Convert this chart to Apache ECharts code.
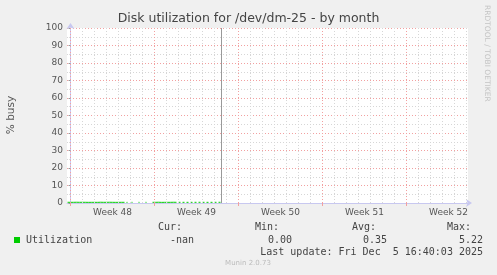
<!DOCTYPE html>
<html><head><meta charset="utf-8">
<script src="https://cdn.jsdelivr.net/npm/echarts@6/dist/echarts.min.js"></script>
<style>html,body{margin:0;padding:0;background:#f0f0f0}#c{width:497px;height:275px}</style>
</head><body><div id="c"></div>
<script>
// ---- data ----
const chartTitle = 'Disk utilization for /dev/dm-25 - by month';
const yAxisName = '% busy';
const weekLabels = ['Week 48', 'Week 49', 'Week 50', 'Week 51', 'Week 52'];
const weekCenters = [3.5, 10.5, 17.5, 24.5, 31.5];   // days from start of week 48
const weekStarts = [0, 7, 14, 21, 28];
const dayLines = [1,2,3,4,5,6,8,9,10,11,12,13,15,16,17,18,19,20,22,23,24,25,26,27,29,30,31,32,33];
const xMin = -0.29167, xMax = 33.125;
const sampleStart = -0.25;          // day of first sample
const sampleStep = 1 / 12;          // 2-hour samples
const utilization = [
  0.42, 0.45, 0.40,
  0.38, 0.41, 0.44, 0.40, 0.36, 0.39, 0.43, 0.41, 0.37, 0.40, 0.42, 0.39,
  0.41, 0.38, 0.36, 0.40, 0.43, 0.40, 0.37, 0.41, 0.44, 0.39, 0.38, 0.40,
  0.39, 0.42, 0.40, 0.37, 0.38, 0.41, 0.43, 0.40, 0.36, 0.39, 0.42, 0.40,
  0.40, 0.37, 0.39, 0.42, 0.41, 0.38, 0.40, 0.43, 0.39, 0.37, 0.40, 0.41,
  0.38, 0.41, 0.43, 0.40, 0.37, 0.39, 0.40, null, 0.35, 0.38, null, null,
  null, 0.40, 0.38, null, null, 0.30, null, null, 0.40, 0.37, null, null,
  0.33, null, null, 0.40, 0.38, null, null, 0.35, null, null, 0.40, 0.42,
  0.41, 0.39, 0.37, 0.40, 0.43, 0.41, 0.38, 0.36, 0.40, 0.42, 0.39, 0.41,
  0.40, 0.38, 0.41, 0.43, 0.39, 0.37, 0.40, 0.42, 0.40, 0.38, 0.41, null,
  0.40, 0.38, 0.41, null, 0.39, 0.42, 0.40, null, 0.38, 0.41, 0.39, null,
  0.40, 0.42, 0.38, null, 0.41, 0.39, 0.40, null, 0.42, 0.38, 0.40, null,
  0.39, 0.41, 0.40, null, 0.38, 0.42, 0.39, null, 0.40, 0.41, 0.38, null,
  0.41, 0.39, 0.40, null, 0.42, 0.38, 0.40
];
const nowLine = [12.58];
const statHeads = ['Cur:', 'Min:', 'Avg:', 'Max:'];
const statValues = ['-nan', '0.00', '0.35', '5.22'];
const seriesName = 'Utilization';
const lastUpdate = 'Last update: Fri Dec  5 16:40:03 2025';
const footer = 'Munin 2.0.73';
const sideText = 'RRDTOOL / TOBI OETIKER';

// ---- build ----
const majorColor = '#f2a0a0';
const minorColor = '#d6d6d6';
const points = utilization.map((v, i) => [sampleStart + i * sampleStep, v]);

function vLines(values, style, z) {
  return {
    type: 'line', data: [], silent: true, z: z,
    markLine: {
      silent: true, symbol: 'none', label: { show: false }, animation: false,
      lineStyle: style, emphasis: { disabled: true },
      data: values.map(v => ({ xAxis: v }))
    }
  };
}

const mono = 'DejaVu Sans Mono';
const txtColor = '#444';
const graphic = [
  { type: 'text', left: 'center', top: 12, style: { text: chartTitle, font: '12.5px "DejaVu Sans"', fill: '#444' } },
  { type: 'text', x: 11, y: 115, rotation: Math.PI / 2, style: { text: yAxisName, font: '10.5px "DejaVu Sans"', fill: '#555', align: 'center', verticalAlign: 'middle' } },
  { type: 'text', x: 487, y: 5, rotation: -Math.PI / 2, style: { text: sideText, font: '7.5px "DejaVu Sans"', fill: '#c4c4c4', align: 'left', verticalAlign: 'middle' } },
  { type: 'rect', shape: { x: 14, y: 237, width: 6, height: 6 }, style: { fill: '#00cc00' } },
  { type: 'text', x: 26, y: 240, style: { text: seriesName, font: '10px ' + mono, fill: txtColor, verticalAlign: 'middle' } },
  { type: 'text', x: 158, y: 227, style: { text: statHeads[0], font: '10px ' + mono, fill: txtColor, verticalAlign: 'middle' } },
  { type: 'text', x: 255, y: 227, style: { text: statHeads[1], font: '10px ' + mono, fill: txtColor, verticalAlign: 'middle' } },
  { type: 'text', x: 352, y: 227, style: { text: statHeads[2], font: '10px ' + mono, fill: txtColor, verticalAlign: 'middle' } },
  { type: 'text', x: 447, y: 227, style: { text: statHeads[3], font: '10px ' + mono, fill: txtColor, verticalAlign: 'middle' } },
  { type: 'text', x: 194, y: 240, style: { text: statValues[0], font: '10px ' + mono, fill: txtColor, align: 'right', verticalAlign: 'middle' } },
  { type: 'text', x: 292, y: 240, style: { text: statValues[1], font: '10px ' + mono, fill: txtColor, align: 'right', verticalAlign: 'middle' } },
  { type: 'text', x: 387, y: 240, style: { text: statValues[2], font: '10px ' + mono, fill: txtColor, align: 'right', verticalAlign: 'middle' } },
  { type: 'text', x: 483, y: 240, style: { text: statValues[3], font: '10px ' + mono, fill: txtColor, align: 'right', verticalAlign: 'middle' } },
  { type: 'text', x: 483, y: 252, style: { text: lastUpdate, font: '10px ' + mono, fill: txtColor, align: 'right', verticalAlign: 'middle' } },
  { type: 'text', x: 248, y: 263, style: { text: footer, font: '7px "DejaVu Sans"', fill: '#bbbbbb', align: 'center', verticalAlign: 'middle' } }
];

const chart = echarts.init(document.getElementById('c'), null, { renderer: 'canvas' });
chart.setOption({
  backgroundColor: '#f0f0f0',
  animation: false,
  grid: { left: 67, right: 29, top: 28, bottom: 72, show: true, backgroundColor: '#ffffff', borderWidth: 0 },
  xAxis: {
    type: 'value', min: xMin, max: xMax,
    axisLine: { show: true, lineStyle: { color: '#c8c8f0', width: 1 }, symbol: ['none', 'arrow'], symbolSize: [6, 6], symbolOffset: [0, 4] },
    axisTick: { show: true, customValues: weekStarts, length: 3, lineStyle: { color: majorColor } },
    axisLabel: { customValues: weekCenters, formatter: v => weekLabels[weekCenters.indexOf(v)] || '', color: '#555', fontFamily: 'DejaVu Sans', fontSize: 9, margin: 5 },
    splitLine: { show: false }
  },
  yAxis: {
    type: 'value', min: 0, max: 100, interval: 10,
    axisLine: { show: true, lineStyle: { color: '#c8c8f0', width: 1 }, symbol: ['none', 'arrow'], symbolSize: [6, 6], symbolOffset: [0, 5] },
    axisTick: { show: true, length: 2, lineStyle: { color: '#999' } },
    minorTick: { show: true, splitNumber: 2, length: 1, lineStyle: { color: '#bbb' } },
    axisLabel: { color: '#555', fontFamily: 'DejaVu Sans', fontSize: 9, margin: 4 },
    splitLine: { show: true, lineStyle: { color: majorColor, type: [1, 2], width: 1 } },
    minorSplitLine: { show: true, lineStyle: { color: minorColor, type: [1, 2], width: 1 } }
  },
  series: [
    vLines(dayLines, { color: minorColor, type: [1, 2], width: 1 }, 1),
    vLines(weekStarts, { color: majorColor, type: [1, 2], width: 1 }, 2),
    vLines(nowLine, { color: '#999999', type: 'solid', width: 1 }, 3),
    {
      name: seriesName, type: 'line', data: points, showSymbol: false, connectNulls: false, z: 4,
      lineStyle: { color: '#00cc00', width: 1 }, itemStyle: { color: '#00cc00' }
    }
  ],
  graphic: graphic
});
</script>
</body></html>
